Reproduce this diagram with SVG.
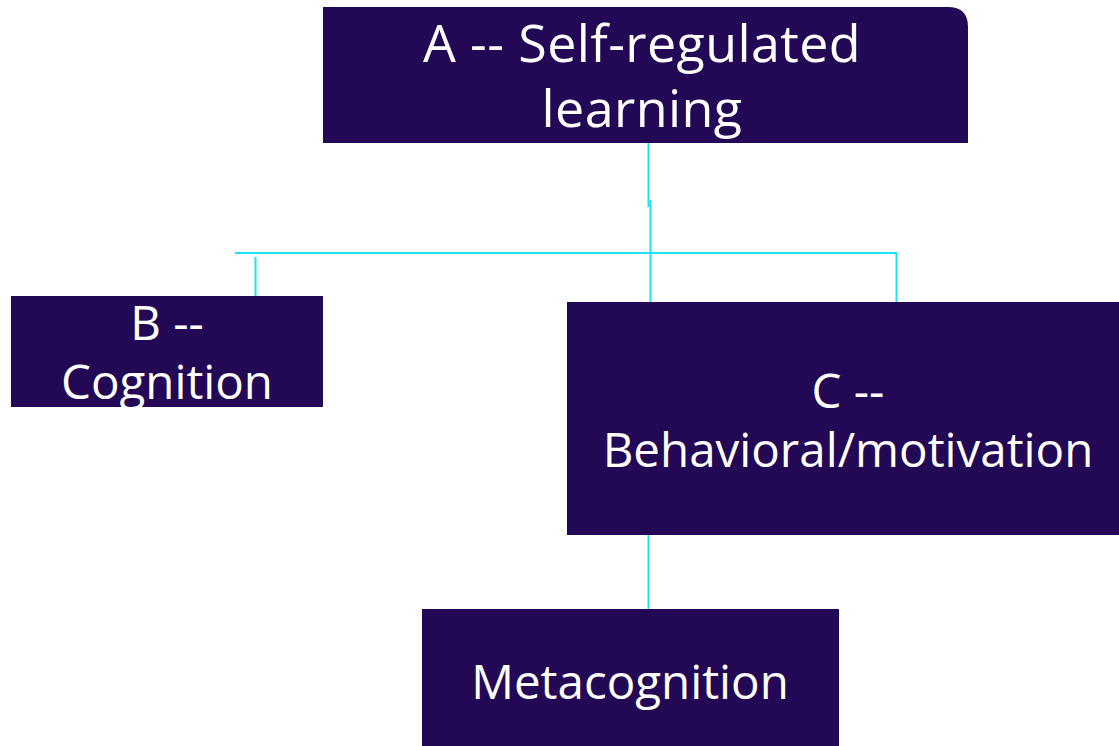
<svg xmlns="http://www.w3.org/2000/svg" width="1119" height="746" viewBox="0 0 1119 746">
  <style>
    .box { fill: #230955; }
    .lbl { fill: #ffffff; font-family: "Open Sans", "Liberation Sans", sans-serif; text-anchor: middle; }
    .wire { stroke: #19E3F5; stroke-width: 2; fill: none; }
  </style>
  <rect width="1119" height="746" fill="#ffffff"/>
  <g id="connectors">
    <path class="wire" d="M648.5 143 V207"/>
    <path class="wire" d="M650.5 200 V302"/>
    <path class="wire" d="M235 253 H897"/>
    <path class="wire" d="M255.5 257 V296"/>
    <path class="wire" d="M896.5 253 V302"/>
    <path class="wire" d="M648.5 535 V609"/>
  </g>
  <g id="node-a">
    <path class="box" d="M323 7 H948 Q968 7 968 27 V143 H323 Z"/>
    <text class="lbl" font-size="52" letter-spacing="0.4"><tspan x="642" y="62">A -- Self-regulated</tspan><tspan x="642" y="127">learning</tspan></text>
  </g>
  <g id="node-b">
    <rect class="box" x="11" y="296" width="312" height="111"/>
    <text class="lbl" font-size="47.5"><tspan x="167" y="340">B --</tspan><tspan x="167" y="399">Cognition</tspan></text>
  </g>
  <g id="node-c">
    <rect class="box" x="567" y="302" width="552" height="233"/>
    <text class="lbl" font-size="47.5"><tspan x="848" y="408">C --</tspan><tspan x="848" y="467">Behavioral/motivation</tspan></text>
  </g>
  <g id="node-d">
    <rect class="box" x="422" y="609" width="417" height="137"/>
    <text class="lbl" font-size="47.5" x="630" y="699">Metacognition</text>
  </g>
</svg>
